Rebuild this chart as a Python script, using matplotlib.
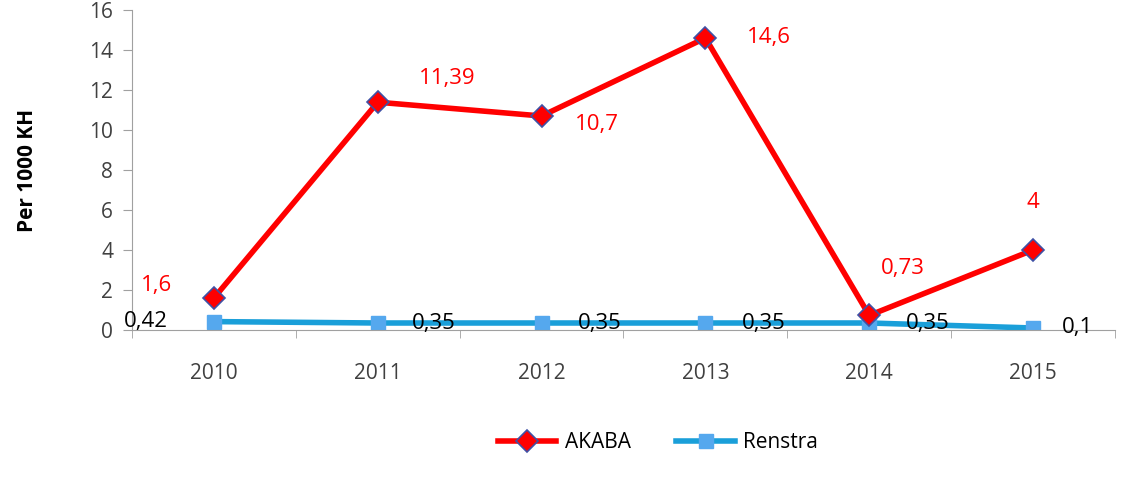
import matplotlib.pyplot as plt
from matplotlib.ticker import FixedLocator

years = ["2010", "2011", "2012", "2013", "2014", "2015"]
akaba = [1.6, 11.39, 10.7, 14.6, 0.73, 4]
renstra = [0.42, 0.35, 0.35, 0.35, 0.35, 0.1]
akaba_labels = ["1,6", "11,39", "10,7", "14,6", "0,73", "4"]
renstra_labels = ["0,42", "0,35", "0,35", "0,35", "0,35", "0,1"]

plt.rcParams['font.family'] = ['Open Sans', 'DejaVu Sans']

fig = plt.figure(figsize=(11.31, 4.83), dpi=100)
ax = fig.add_axes([132 / 1131, 1 - 330 / 483, (1115 - 132) / 1131, 320 / 483])

x = list(range(len(years)))
ax.plot(x, akaba, color='#FF0000', lw=4, marker='D', markersize=11,
        markerfacecolor='#FF0000', markeredgecolor='#3F51A5', markeredgewidth=1.2,
        label='AKABA', zorder=3)
ax.plot(x, renstra, color='#1A9FD9', lw=4, marker='s', markersize=10,
        markerfacecolor='#55A8EE', markeredgecolor='#55A8EE',
        label='Renstra', zorder=2)

# label offsets in points (dx, dy)
akaba_off = [(-41, 9), (50, 17), (40, -6), (46, 0), (24, 34), (0, 34)]
renstra_off = [(-49, 0), (40, 0), (42, 0), (42, 0), (42, 0), (32, 0)]
for i in x:
    ax.annotate(akaba_labels[i], (i, akaba[i]), xytext=akaba_off[i],
                textcoords='offset points', color='#FF0000', fontsize=16,
                ha='center', va='center')
    ax.annotate(renstra_labels[i], (i, renstra[i]), xytext=renstra_off[i],
                textcoords='offset points', color='black', fontsize=16,
                ha='center', va='center')

ax.set_xlim(-0.5, 5.5)
ax.set_ylim(0, 16)
ax.set_yticks(range(0, 17, 2))
ax.set_xticks(x)
ax.set_xticklabels(years)
ax.xaxis.set_minor_locator(FixedLocator([i + 0.5 for i in range(-1, 6)]))
ax.tick_params(axis='x', which='major', length=0, pad=24, labelsize=15, colors='#404040')
ax.tick_params(axis='x', which='minor', length=6, color='#A0A0A0')
ax.tick_params(axis='y', length=6.5, color='#A0A0A0', labelsize=15, labelcolor='#404040', pad=7)

for s in ['top', 'right']:
    ax.spines[s].set_visible(False)
for s in ['left', 'bottom']:
    ax.spines[s].set_color('#A0A0A0')

ax.set_ylabel("Per 1000 KH", fontsize=15, fontweight='bold', labelpad=37)

fig.legend(loc='center', bbox_to_anchor=(658 / 1131, 1 - 443 / 483), ncol=2,
           frameon=False, fontsize=15, handlelength=2.8, handletextpad=0.4,
           columnspacing=2.2)

fig.text(45 / 1131, 1 - 494 / 483, "Sumber : Bidang Yankes", fontsize=15, va='center')

fig.savefig("out.png", dpi=100)
